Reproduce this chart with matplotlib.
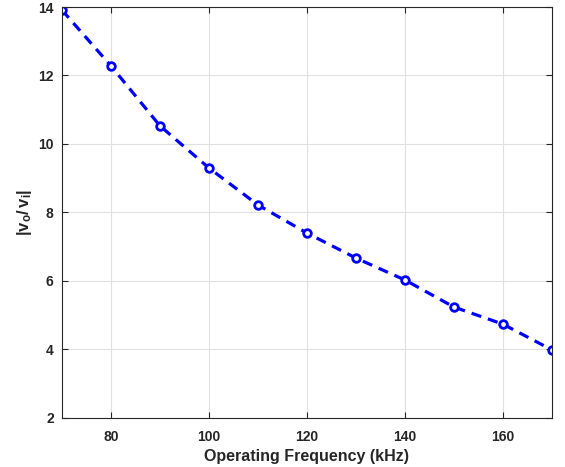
import matplotlib
matplotlib.use("Agg")
import matplotlib.pyplot as plt

freq_khz = [70, 80, 90, 100, 110, 120, 130, 140, 150, 160, 170]
gain = [13.91, 12.28, 10.53, 9.30, 8.22, 7.40, 6.67, 6.03, 5.24, 4.74, 3.99]
x_ticks = [80, 100, 120, 140, 160]
y_ticks = [2, 4, 6, 8, 10, 12, 14]

plt.rcParams['font.family'] = ['Liberation Sans', 'DejaVu Sans']
plt.rcParams['font.weight'] = 'bold'
plt.rcParams['mathtext.fontset'] = 'custom'
plt.rcParams['mathtext.rm'] = 'Liberation Sans:bold'
plt.rcParams['mathtext.it'] = 'Liberation Sans:bold'
plt.rcParams['mathtext.bf'] = 'Liberation Sans:bold'

fig = plt.figure(figsize=(5.65, 4.67), dpi=100)
ax = fig.add_axes([0.1097, 0.105, 0.867, 0.880])

ax.plot(freq_khz, gain, color='#0000ff', linestyle=(0, (3.2, 2.2)), linewidth=2.3,
        marker='o', markersize=5.5, markerfacecolor='white', markeredgecolor='#0000ff',
        markeredgewidth=2)

ax.set_xlim(70, 170)
ax.set_ylim(2, 14)
ax.set_xticks(x_ticks)
ax.set_yticks(y_ticks)
ax.grid(True, color='#e0e0e0', linewidth=0.8)
ax.set_axisbelow(True)
ax.tick_params(direction='in', top=True, right=True, labelsize=10, width=0.8, length=4,
               colors='#262626', labelcolor='#262626')
ax.tick_params(axis='x', pad=9)
ax.tick_params(axis='y', pad=6)
for s in ax.spines.values():
    s.set_color('#262626')
    s.set_linewidth(0.8)

ax.set_xlabel('Operating Frequency (kHz)', fontsize=11.5, fontweight='bold', color='#262626', labelpad=3)
ax.set_ylabel(r'$|\mathrm{v_o/\,v_i}|$', fontsize=12, color='#262626', labelpad=3)

fig.savefig('out.png', dpi=100)
